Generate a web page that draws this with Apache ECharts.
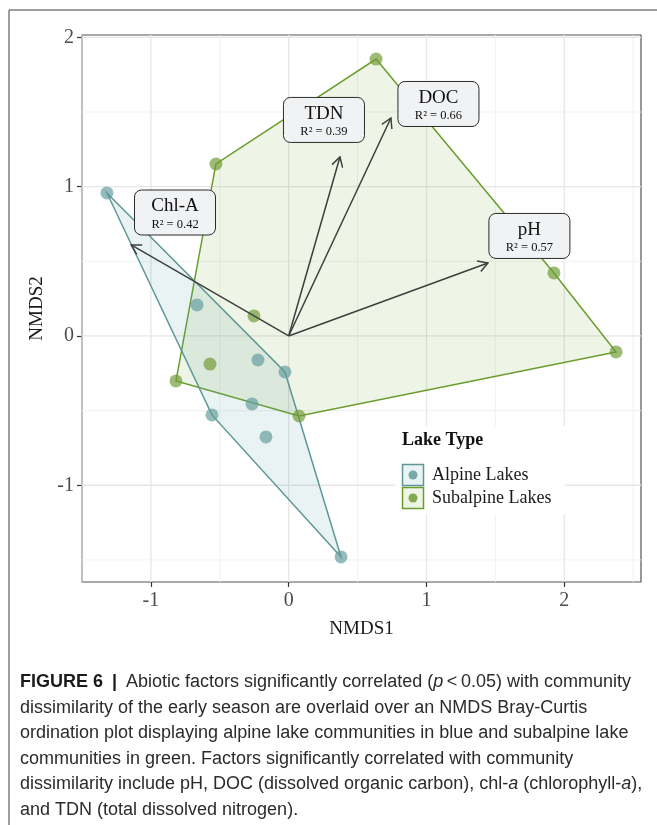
<!DOCTYPE html>
<html><head><meta charset="utf-8">
<script src="https://cdn.jsdelivr.net/npm/echarts@6/dist/echarts.min.js"></script>
<style>html,body{margin:0;padding:0;background:#fff}#c{width:657px;height:825px}</style>
</head><body><div id="c"></div>
<script>
// ---- data ----
const alpineX = [-1.319, -0.665, -0.223, -0.027, -0.266, -0.557, -0.165, 0.380];
const alpineY = [0.958, 0.208, -0.161, -0.241, -0.455, -0.529, -0.676, -1.480];
const subX = [0.634, -0.528, 1.925, 2.376, -0.252, -0.571, -0.818, 0.075];
const subY = [1.855, 1.152, 0.422, -0.107, 0.134, -0.188, -0.301, -0.536];
const alpineHull = [0, 3, 7, 5];
const subHull = [0, 2, 3, 7, 6, 1];
const factorNames = ['Chl-A', 'TDN', 'DOC', 'pH'];
const factorR2 = ['0.42', '0.39', '0.66', '0.57'];
const arrowX = [-1.143, 0.372, 0.742, 1.446];
const arrowY = [0.610, 1.199, 1.460, 0.489];
const labelX = [-0.825, 0.256, 1.087, 1.747];
const labelY = [0.827, 1.447, 1.554, 0.670];
const xTicks = [-1, 0, 1, 2];
const yTicks = [-1, 0, 1, 2];
const xBreaks = [-1.5, -1, -0.5, 0, 0.5, 1, 1.5, 2, 2.5];
const yBreaks = [-1.5, -1, -0.5, 0, 0.5, 1, 1.5, 2];
const xRange = [-1.5, 2.557];
const yRange = [-1.648, 2.016];
const groupNames = ['Alpine Lakes', 'Subalpine Lakes'];
const legendTitle = 'Lake Type';
const xName = 'NMDS1', yName = 'NMDS2';
const captionLines = [
  '{b|FIGURE 6} {bar||} Abiotic factors significantly correlated ({i|p}\u2009<\u20090.05) with community',
  'dissimilarity of the early season are overlaid over an NMDS Bray-Curtis',
  'ordination plot displaying alpine lake communities in blue and subalpine lake',
  'communities in green. Factors significantly correlated with community',
  'dissimilarity include pH, DOC (dissolved organic carbon), chl-{i|a} (chlorophyll-{i|a}),',
  'and TDN (total dissolved nitrogen).'
];

// ---- style ----
const SERIF = 'Liberation Serif, Times New Roman, serif';
const SANS = 'Liberation Sans, Arial, sans-serif';
const tealPt = 'rgba(100,156,157,0.85)', greenPt = 'rgba(110,156,52,0.85)';
const tealLine = '#5d9797', greenLine = '#6a9d2c';
const tealFill = 'rgba(96,160,160,0.13)', greenFill = 'rgba(112,162,52,0.12)';
const capColor = '#2b2b2b';

const chart = echarts.init(document.getElementById('c'), null, {renderer: 'canvas'});

function hullSeries(X, Y, hull, fill, stroke) {
  return {
    type: 'custom', z: 3, silent: true,
    data: hull.map(i => [X[i], Y[i]]),
    renderItem: function (params, api) {
      if (params.dataIndex !== 0) return null;
      const pts = hull.map(i => api.coord([X[i], Y[i]]));
      return {type: 'polygon', shape: {points: pts},
        style: {fill: fill, stroke: stroke, lineWidth: 1.5}};
    }
  };
}

const gridSeries = {
  type: 'custom', z: 1, silent: true,
  data: [[0, 0]],
  renderItem: function (params, api) {
    const ch = [];
    xBreaks.forEach(v => {
      const a = api.coord([v, yRange[0]]), b = api.coord([v, yRange[1]]);
      const major = Number.isInteger(v);
      ch.push({type: 'line', shape: {x1: a[0], y1: a[1], x2: b[0], y2: b[1]},
        style: {stroke: major ? '#e6e6e6' : '#efefef', lineWidth: major ? 1.3 : 0.9}});
    });
    yBreaks.forEach(v => {
      const a = api.coord([xRange[0], v]), b = api.coord([xRange[1], v]);
      const major = Number.isInteger(v);
      ch.push({type: 'line', shape: {x1: a[0], y1: a[1], x2: b[0], y2: b[1]},
        style: {stroke: major ? '#e6e6e6' : '#efefef', lineWidth: major ? 1.3 : 0.9}});
    });
    return {type: 'group', children: ch};
  }
};

const arrowSeries = {
  type: 'custom', z: 6, silent: true,
  data: arrowX.map((x, i) => [x, arrowY[i]]),
  renderItem: function (params, api) {
    const o = api.coord([0, 0]);
    const t = api.coord([api.value(0), api.value(1)]);
    const ang = Math.atan2(t[1] - o[1], t[0] - o[0]);
    const L = 11, w = Math.PI / 6;
    const p1 = [t[0] - L * Math.cos(ang - w), t[1] - L * Math.sin(ang - w)];
    const p2 = [t[0] - L * Math.cos(ang + w), t[1] - L * Math.sin(ang + w)];
    const st = {stroke: '#3f3f3f', lineWidth: 1.5, fill: null};
    return {type: 'group', children: [
      {type: 'line', shape: {x1: o[0], y1: o[1], x2: t[0], y2: t[1]}, style: st},
      {type: 'polyline', shape: {points: [p1, t, p2]}, style: st}
    ]};
  }
};

const labelSeries = {
  type: 'custom', z: 8, silent: true,
  data: labelX.map((x, i) => [x, labelY[i]]),
  renderItem: function (params, api) {
    const i = params.dataIndex;
    const c = api.coord([api.value(0), api.value(1)]);
    const W = 81, H = 45;
    return {type: 'group', children: [
      {type: 'rect', shape: {x: c[0] - W / 2, y: c[1] - H / 2, width: W, height: H, r: 7},
        style: {fill: '#f1f2f4', stroke: '#2b2b2b', lineWidth: 1}},
      {type: 'text', style: {text: factorNames[i], x: c[0], y: c[1] - 6, align: 'center', verticalAlign: 'middle',
        font: '19px ' + SERIF, fill: '#111'}},
      {type: 'text', style: {text: 'R\u00b2 = ' + factorR2[i], x: c[0], y: c[1] + 12, align: 'center', verticalAlign: 'middle',
        font: '12.5px ' + SERIF, fill: '#111'}}
    ]};
  }
};

const captionGraphics = captionLines.map((t, k) => ({
  type: 'text', left: 20, top: 673 + k * 25.6,
  style: {text: t, font: '18px ' + SANS, fill: capColor,
    rich: {
      b: {fontWeight: 'bold', fontFamily: SANS, fontSize: 18, fill: '#1a1a1a'},
      bar: {fontWeight: 'bold', fontFamily: SANS, fontSize: 18, fill: '#1a1a1a', padding: [0, 4, 0, 4]},
      i: {fontStyle: 'italic', fontFamily: SANS, fontSize: 18, fill: capColor}
    }}
}));

const legendGraphics = [
  {type: 'rect', z: 100, shape: {x: 395, y: 426, width: 170, height: 88}, style: {fill: '#fff'}},
  {type: 'text', z: 101, style: {text: legendTitle, x: 402, y: 440, verticalAlign: 'middle', font: 'bold 18px ' + SERIF, fill: '#111'}},
  {type: 'rect', z: 101, shape: {x: 402.5, y: 464.5, width: 21, height: 21}, style: {fill: tealFill, stroke: tealLine, lineWidth: 1.5}},
  {type: 'circle', z: 102, shape: {cx: 413, cy: 475, r: 4.5}, style: {fill: tealPt}},
  {type: 'rect', z: 101, shape: {x: 402.5, y: 487.5, width: 21, height: 21}, style: {fill: greenFill, stroke: greenLine, lineWidth: 1.5}},
  {type: 'circle', z: 102, shape: {cx: 413, cy: 498, r: 4.5}, style: {fill: greenPt}},
  {type: 'text', z: 101, style: {text: groupNames[0], x: 432, y: 475, verticalAlign: 'middle', font: '18px ' + SERIF, fill: '#1a1a1a'}},
  {type: 'text', z: 101, style: {text: groupNames[1], x: 432, y: 498, verticalAlign: 'middle', font: '18px ' + SERIF, fill: '#1a1a1a'}}
];

const frameGraphics = [
  {type: 'line', shape: {x1: 9, y1: 10, x2: 657, y2: 10}, style: {stroke: '#7d7d7d', lineWidth: 1.5}},
  {type: 'line', shape: {x1: 9, y1: 10, x2: 9, y2: 825}, style: {stroke: '#7d7d7d', lineWidth: 1.5}}
];

const option = {
  backgroundColor: '#fff',
  animation: false,
  grid: {left: 82, top: 35, width: 559, height: 547, show: true, borderColor: '#555', borderWidth: 1.2, backgroundColor: '#fff'},
  xAxis: {
    type: 'value', min: xRange[0], max: xRange[1],
    splitLine: {show: false},
    axisLine: {show: false, onZero: false},
    axisTick: {show: true, length: 5, customValues: xTicks, lineStyle: {color: '#333', width: 1.2}},
    axisLabel: {customValues: xTicks, fontFamily: SERIF, fontSize: 20, color: '#4d4d4d', margin: 9},
    name: xName, nameLocation: 'middle', nameGap: 38,
    nameTextStyle: {fontFamily: SERIF, fontSize: 19, color: '#1a1a1a'}
  },
  yAxis: {
    type: 'value', min: yRange[0], max: yRange[1],
    splitLine: {show: false},
    axisLine: {show: false, onZero: false},
    axisTick: {show: true, length: 5, customValues: yTicks, lineStyle: {color: '#333', width: 1.2}},
    axisLabel: {customValues: yTicks, fontFamily: SERIF, fontSize: 20, color: '#4d4d4d', margin: 8},
    name: yName, nameLocation: 'middle', nameGap: 34,
    nameTextStyle: {fontFamily: SERIF, fontSize: 19, color: '#1a1a1a'}
  },
  graphic: [].concat(frameGraphics, legendGraphics, captionGraphics),
  series: [
    gridSeries,
    hullSeries(subX, subY, subHull, greenFill, greenLine),
    hullSeries(alpineX, alpineY, alpineHull, tealFill, tealLine),
    {type: 'scatter', name: groupNames[0], z: 5, symbolSize: 13, data: alpineX.map((x, i) => [x, alpineY[i]]),
      itemStyle: {color: tealPt}},
    {type: 'scatter', name: groupNames[1], z: 5, symbolSize: 13, data: subX.map((x, i) => [x, subY[i]]),
      itemStyle: {color: greenPt}},
    arrowSeries,
    labelSeries
  ]
};
chart.setOption(option);
</script></body></html>
